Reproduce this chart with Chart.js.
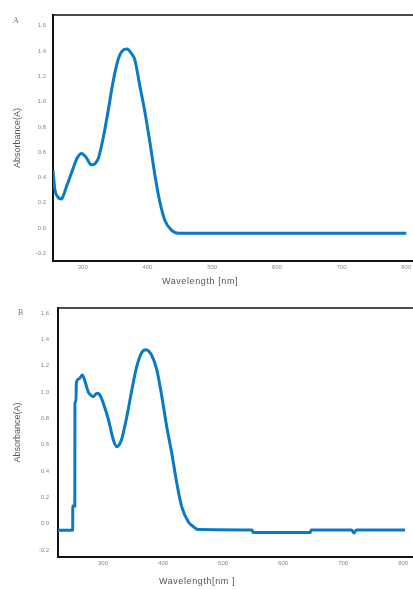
<!DOCTYPE html>
<html>
<head>
<meta charset="utf-8">
<script src="https://cdn.jsdelivr.net/npm/chart.js@4"></script>
<style>
  html, body { margin: 0; padding: 0; background: #fff; width: 413px; height: 589px; overflow: hidden; }
  .panel { position: absolute; left: 0; width: 420px; }
  .tag { position: absolute; font-family: 'Liberation Serif', serif; font-size: 8px; color: #777; }
  .xtitle { position: absolute; width: 120px; text-align: center; font-family: 'Liberation Sans', sans-serif; font-size: 9px; color: #555; letter-spacing: 0.6px; }
</style>
</head>
<body>
<div class="panel" style="top:0;height:295px"><canvas id="chartA"></canvas></div>
<div class="panel" style="top:295px;height:294px"><canvas id="chartB"></canvas></div>
<div class="tag" style="left:13px;top:16px">A</div>
<div class="tag" style="left:18px;top:308px">B</div>
<div class="xtitle" style="left:140px;top:276px">Wavelength [nm]</div>
<div class="xtitle" style="left:137px;top:576px">Wavelength[nm ]</div>
<script>
// spectrum A
const wavelengthA = [254, 256.7, 261, 267, 271, 275, 280, 285, 291, 298, 305, 313.5, 319, 324, 331.5, 339, 347, 354.6, 361, 368.6, 375, 380.5, 388, 396, 403.7, 411.5, 419, 427, 437, 447.5, 500, 600, 700, 800];
const absorbanceA = [0.46, 0.31, 0.25, 0.23, 0.27, 0.33, 0.40, 0.47, 0.55, 0.59, 0.56, 0.50, 0.51, 0.55, 0.71, 0.92, 1.16, 1.33, 1.40, 1.415, 1.38, 1.33, 1.13, 0.92, 0.68, 0.42, 0.21, 0.06, -0.016, -0.04, -0.04, -0.04, -0.04, -0.04];

// spectrum B
const wavelengthB = [225, 249.5, 249.6, 253, 253.2, 255, 255.5, 260, 265.5, 270, 275.5, 280, 284, 288, 292, 295, 300.5, 309, 317, 323, 327, 331, 339.5, 348, 356, 364.5, 371.7, 376, 381, 389.5, 398, 406, 414.5, 422.8, 431, 442, 450, 458, 548, 550, 645, 647, 714, 718, 722, 803];
const absorbanceB = [-0.05, -0.05, 0.135, 0.135, 0.915, 0.93, 1.07, 1.10, 1.13, 1.08, 1.00, 0.975, 0.965, 0.985, 0.99, 0.975, 0.915, 0.79, 0.64, 0.585, 0.60, 0.64, 0.81, 1.015, 1.19, 1.30, 1.32, 1.31, 1.28, 1.17, 0.965, 0.74, 0.535, 0.31, 0.13, 0.015, -0.02, -0.045, -0.048, -0.066, -0.066, -0.048, -0.048, -0.07, -0.048, -0.048];

const xTicks = [300, 400, 500, 600, 700, 800];
const yTicks = [-0.2, 0.0, 0.2, 0.4, 0.6, 0.8, 1.0, 1.2, 1.4, 1.6];

const lineColor = 'rgb(10, 122, 196)';
const tickFont = { family: 'Liberation Sans', size: 6 };
const titleFont = { family: 'Liberation Sans', size: 9 };

// thin top border of the frame
const topBorder = {
    id: 'topBorder',
    afterDraw(chart) {
        const { ctx, chartArea } = chart;
        ctx.save();
        ctx.strokeStyle = '#111';
        ctx.lineWidth = 1.5;
        ctx.beginPath();
        ctx.moveTo(chartArea.left, chartArea.top);
        ctx.lineTo(chartArea.right, chartArea.top);
        ctx.stroke();
        ctx.restore();
    }
};

function makeChart(id, xs, ys, opts) {
    const points = xs.map((x, i) => ({ x: x, y: ys[i] }));
    return new Chart(document.getElementById(id), {
        type: 'line',
        data: {
            datasets: [{
                data: points,
                borderColor: lineColor,
                borderWidth: 3,
                pointRadius: 0,
                fill: false,
                cubicInterpolationMode: 'monotone'
            }]
        },
        options: {
            responsive: true,
            maintainAspectRatio: false,
            animation: false,
            layout: { padding: { top: opts.top, right: 6, bottom: 0, left: 0 } },
            plugins: { legend: { display: false }, tooltip: { enabled: false } },
            scales: {
                x: {
                    type: 'linear',
                    min: opts.xMin,
                    max: opts.xMax,
                    grid: { display: false, drawTicks: false },
                    border: { display: true, color: '#111', width: 2 },
                    afterBuildTicks: (axis) => { axis.ticks = xTicks.map(v => ({ value: v })); },
                    afterFit: (axis) => { axis.height = opts.xHeight; },
                    ticks: { color: '#888', font: tickFont, padding: 3, maxRotation: 0, callback: (v) => String(v) }
                },
                y: {
                    min: opts.yMin,
                    max: opts.yMax,
                    grid: { display: false, drawTicks: false },
                    border: { display: true, color: '#111', width: 2 },
                    afterBuildTicks: (axis) => { axis.ticks = yTicks.map(v => ({ value: v })); },
                    afterFit: (axis) => { axis.width = opts.yWidth; },
                    ticks: { color: '#888', font: tickFont, padding: opts.yTickPad, callback: (v) => v.toFixed(1) },
                    title: { display: true, text: 'Absorbance(A)', color: '#555', font: titleFont, padding: { top: 12.5, bottom: 0 } }
                }
            }
        },
        plugins: [topBorder]
    });
}

makeChart('chartA', wavelengthA, absorbanceA, {
    top: 15, xMin: 254, xMax: 812, yMin: -0.26, yMax: 1.684,
    xHeight: 34, yWidth: 53, yTickPad: 7
});

makeChart('chartB', wavelengthB, absorbanceB, {
    top: 13, xMin: 225, xMax: 818, yMin: -0.253, yMax: 1.638,
    xHeight: 32, yWidth: 58, yTickPad: 9
});
</script>
</body>
</html>
